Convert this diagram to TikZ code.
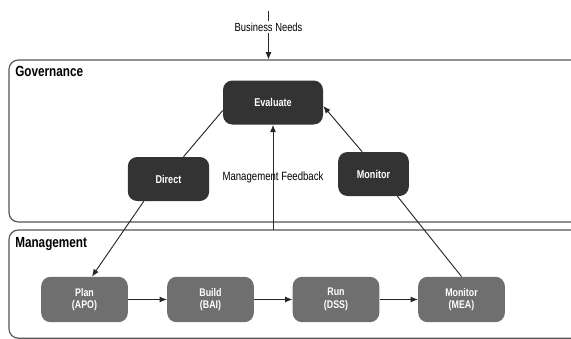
\documentclass[tikz,border=0pt]{standalone}
\usepackage{fontspec}
\setmainfont[FakeStretch=0.8]{Liberation Sans}
\usepackage{xcolor}
\usetikzlibrary{arrows.meta}

\definecolor{govfill}{HTML}{333333}
\definecolor{mgtfill}{HTML}{6F6F6F}
\definecolor{framecol}{HTML}{555555}

\tikzset{
  govbox/.style={fill=govfill, rounded corners=7pt, text=white, align=center,
    font=\fontsize{8.5}{9.5}\selectfont\bfseries, minimum height=33pt},
  mgtbox/.style={fill=mgtfill, rounded corners=7pt, text=white, align=center,
    font=\fontsize{8.3}{9.3}\selectfont\bfseries, minimum width=65pt, minimum height=34pt},
  areaframe/.style={draw=framecol, line width=0.9pt, rounded corners=7pt},
  arealabel/.style={anchor=north west, inner sep=0.75pt, font=\fontsize{11}{13}\selectfont\bfseries},
  flow/.style={draw=black!85, line width=0.7pt},
  flowarrow/.style={flow, -{Latex[length=5.5pt,width=4.5pt]}},
}

\begin{document}
\begin{tikzpicture}[x=0.75pt,y=0.75pt,yscale=-1,xscale=1]
    \useasboundingbox (0,0) rectangle (571,339);
    \clip (0,0) rectangle (571,339);

    %Rounded Rect [governance area]
    \draw[areaframe] (9,60) rectangle (600,222);
    %Rounded Rect [management area]
    \draw[areaframe] (9,230) rectangle (600,338.2);

    % Text Node
    \node[arealabel] (govlbl) at (14,65) {Governance};
    % Text Node
    \node[arealabel] (mgtlbl) at (14,236) {Management};

    % Governance boxes
    \node[govbox, minimum width=75pt] (eval) at (273,102.5) {Evaluate};
    \node[govbox, minimum width=61pt] (dir) at (168.5,179) {Direct};
    \node[govbox, minimum width=53pt] (mon) at (373.5,174) {Monitor};

    % Management boxes
    \node[mgtbox] (plan) at (84.5,299.5) {Plan\\(APO)};
    \node[mgtbox] (build) at (210.5,299.5) {Build\\(BAI)};
    \node[mgtbox] (run) at (336,299.5) {Run\\(DSS)};
    \node[mgtbox] (mea) at (461.5,299.5) {Monitor\\(MEA)};

    % Text Node
    \node[inner sep=0.75pt, font=\fontsize{8.8}{10}\selectfont] (needs) at (268.5,27) {Business Needs};
    % Text Node
    \node[inner sep=0.75pt, font=\fontsize{9}{10}\selectfont] (fbk) at (273,177) {Management Feedback};

    \coordinate (needstop) at (268.5,11);
    \coordinate (govin) at (268.5,59.5);
    \coordinate (mgtout) at (273,230);

    %Straight Lines
    \draw[flow] (needstop) -- (needs.north);
    \draw[flowarrow] (needs.south) -- (govin);
    \draw[flowarrow] (mgtout) -- (eval.south);

    \draw[flow] (eval.189) -- (dir.56);
    \draw[flowarrow] (dir.222) -- (plan.72);
    \draw[flowarrow] (mon.117) -- (eval.356);
    \draw[flow] (mea.north) -- (mon.317);

    \draw[flowarrow] (plan) -- (build);
    \draw[flowarrow] (build) -- (run);
    \draw[flowarrow] (run) -- (mea);

\end{tikzpicture}
\end{document}
